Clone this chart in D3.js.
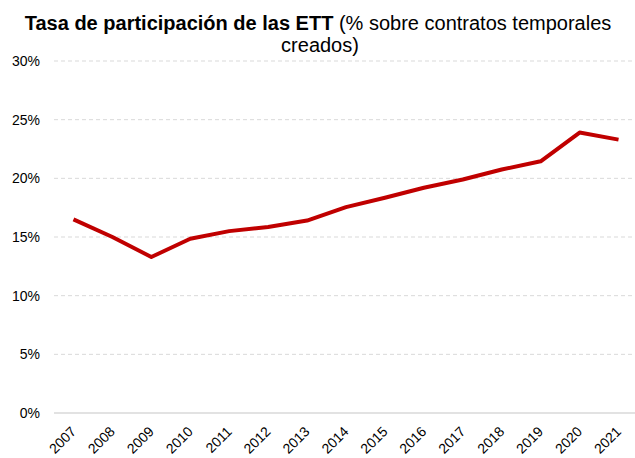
<!DOCTYPE html>
<html><head><meta charset="utf-8">
<script src="https://cdn.jsdelivr.net/npm/d3@7/dist/d3.min.js"></script>
<style>body{margin:0;background:#fff}</style>
</head><body>
<svg id="c" width="635" height="458"></svg>
<script>
const years = ["2007","2008","2009","2010","2011","2012","2013","2014","2015","2016","2017","2018","2019","2020","2021"];
const values = [16.5, 15.0, 13.3, 14.85, 15.5, 15.85, 16.4, 17.55, 18.35, 19.2, 19.9, 20.75, 21.45, 23.9, 23.3];
const yTicks = [0, 5, 10, 15, 20, 25, 30];

(function () {
const svg = d3.select("#c");
const font = "Liberation Sans, Arial, sans-serif";
const mLeft = 54, mRight = 638, mTop = 61, mBottom = 413;

const x = d3.scaleBand().domain(years).range([mLeft, mRight]);
const y = d3.scaleLinear().domain([0, 30]).range([mBottom, mTop]);

// gridlines
svg.append("g").selectAll("line").data(yTicks.filter(d => d > 0)).join("line")
  .attr("x1", mLeft).attr("x2", 635)
  .attr("y1", d => y(d)).attr("y2", d => y(d))
  .attr("stroke", "#d9d9d9").attr("stroke-width", 1).attr("stroke-dasharray", "4,3");
// baseline
svg.append("line").attr("x1", mLeft).attr("x2", 635).attr("y1", y(0)).attr("y2", y(0))
  .attr("stroke", "#d9d9d9").attr("stroke-width", 1.5);

// y labels
const yAxis = d3.axisLeft(y).tickValues(yTicks).tickFormat(d => d + "%").tickSize(0).tickPadding(0);
const ga = svg.append("g").attr("transform", "translate(40,0)").call(yAxis);
ga.select(".domain").remove();
ga.selectAll("text").attr("font-family", font).attr("font-size", 14).attr("fill", "#000");

// x labels
const xAxis = d3.axisBottom(x).tickSize(0).tickPadding(0);
const gx = svg.append("g").attr("transform", "translate(0,429)").call(xAxis);
gx.select(".domain").remove();
gx.selectAll("text").attr("font-family", font).attr("font-size", 14).attr("fill", "#000")
  .attr("text-anchor", "end").attr("y", 0).attr("dy", "0.35em")
  .attr("transform", "translate(0,0) rotate(-45)");

// line
const line = d3.line().x((d, i) => x(years[i]) + x.bandwidth() / 2).y(d => y(d));
svg.append("path").datum(values).attr("d", line)
  .attr("fill", "none").attr("stroke", "#C00000").attr("stroke-width", 4)
  .attr("stroke-linejoin", "round");

// title
const t = svg.append("text").attr("x", 318).attr("y", 30).attr("text-anchor", "middle")
  .attr("font-family", font).attr("font-size", 20).attr("fill", "#000");
t.append("tspan").attr("font-weight", "bold").text("Tasa de participación de las ETT");
t.append("tspan").text(" (% sobre contratos temporales");
svg.append("text").attr("x", 320).attr("y", 52).attr("text-anchor", "middle")
  .attr("font-family", font).attr("font-size", 20).attr("fill", "#000").text("creados)");
})();
</script>
</body></html>
